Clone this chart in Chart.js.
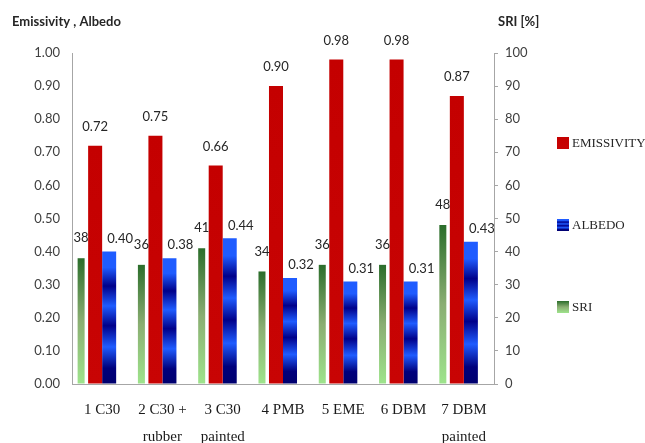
<!DOCTYPE html>
<html>
<head>
<meta charset="utf-8">
<script src="https://cdn.jsdelivr.net/npm/chart.js@4.4.1/dist/chart.umd.min.js"></script>
<style>
  html, body { margin: 0; padding: 0; background: #fff; }
  #wrap { width: 645px; height: 443px; }
</style>
</head>
<body>
<div id="wrap"><canvas id="c" width="645" height="443"></canvas></div>
<script>
// Pavement samples and measured surface properties
const categories = [['1 C30'], ['2 C30 +', 'rubber'], ['3 C30', 'painted'], ['4 PMB'], ['5 EME'], ['6 DBM'], ['7 DBM', 'painted']];
const emissivity = [0.72, 0.75, 0.66, 0.90, 0.98, 0.98, 0.87];
const albedo = [0.40, 0.38, 0.44, 0.32, 0.31, 0.31, 0.43];
const sri = [38, 36, 41, 34, 36, 36, 48];

// Axis tick labels
const leftTickLabels = ['0.00', '0.10', '0.20', '0.30', '0.40', '0.50', '0.60', '0.70', '0.80', '0.90', '1.00'];
const rightTickLabels = ['0', '10', '20', '30', '40', '50', '60', '70', '80', '90', '100'];

const leftTitle = 'Emissivity , Albedo';
const rightTitle = 'SRI [%]';

// Colour ramps used for bar fills (offset, colour), top of bar at 0
const greenStops = [[0, '#2b6d2b'], [0.5, '#8aae72'], [1, '#9ee48c']];
const redStops = [[0, '#c40000'], [1, '#c80404']];
const blueStops = [[0, '#1f5cff'], [0.12, '#1f5cff'], [0.26, '#00008a'], [0.41, '#1f5cff'], [0.56, '#00008a'], [0.72, '#1f5cff'], [0.88, '#00007c'], [1, '#00006e']];

const TICK_FONT = { family: 'Lato', size: 13 };
const TEXT_DARK = '#262626';
const AXIS_GREY = '#a6a6a6';

function makeGradient(g2d, y0, y1, stops) {
  const g = g2d.createLinearGradient(0, y0, 0, y1);
  stops.forEach(([o, c]) => g.addColorStop(o, c));
  return g;
}

// Gradient spanning each individual bar, from its top down to the zero line
function barFill(stops) {
  return (ctx) => {
    const { chart, dataset, dataIndex, type } = ctx;
    if (type !== 'data' || !chart.chartArea) return stops[0][1];
    const scale = chart.scales[dataset.yAxisID];
    const top = scale.getPixelForValue(dataset.data[dataIndex]);
    const bottom = scale.getPixelForValue(0);
    return makeGradient(chart.ctx, top, bottom === top ? top + 1 : bottom, stops);
  };
}

const datasets = [
  {
    label: 'SRI', data: sri, yAxisID: 'y2', barPercentage: 0.5,
    backgroundColor: barFill(greenStops), stops: greenStops,
    valueText: v => String(v), labelShift: { x: 0, y: 20 }
  },
  {
    label: 'EMISSIVITY', data: emissivity, yAxisID: 'y', barPercentage: 1,
    backgroundColor: barFill(redStops), stops: redStops,
    valueText: v => v.toFixed(2), labelShift: { x: 0, y: 19 }
  },
  {
    label: 'ALBEDO', data: albedo, yAxisID: 'y', barPercentage: 1,
    backgroundColor: barFill(blueStops), stops: blueStops,
    valueText: v => v.toFixed(2), labelShift: { x: 11, y: 13 }
  },
  // empty slot that leaves room for the albedo labels at the right of each group
  { label: '', data: [], yAxisID: 'y', barPercentage: 1 }
];

const legendOrder = ['EMISSIVITY', 'ALBEDO', 'SRI'];

const valueLabels = {
  id: 'valueLabels',
  afterDatasetsDraw(chart) {
    const g = chart.ctx;
    g.save();
    g.font = '13px Lato';
    g.fillStyle = TEXT_DARK;
    g.textAlign = 'center';
    g.textBaseline = 'middle';
    chart.data.datasets.forEach((ds, di) => {
      if (!ds.valueText) return;
      chart.getDatasetMeta(di).data.forEach((bar, i) => {
        g.fillText(ds.valueText(ds.data[i]), bar.x + ds.labelShift.x, bar.y - ds.labelShift.y);
      });
    });
    g.restore();
  }
};

const axisTitles = {
  id: 'axisTitles',
  afterDraw(chart) {
    const g = chart.ctx;
    g.save();
    g.font = 'bold 13px Lato';
    g.fillStyle = TEXT_DARK;
    g.textBaseline = 'middle';
    g.textAlign = 'left';
    g.fillText(leftTitle, 12, 22);
    g.fillText(rightTitle, chart.scales.y2.left + 4, 22);
    g.restore();
  }
};

const sideLegend = {
  id: 'sideLegend',
  afterDraw(chart) {
    const g = chart.ctx;
    const x = 557, box = 12, y0 = 143, step = 82;
    g.save();
    g.font = '13px "Liberation Serif"';
    g.fillStyle = TEXT_DARK;
    g.textBaseline = 'middle';
    g.textAlign = 'left';
    legendOrder.forEach((name, k) => {
      const ds = chart.data.datasets.find(d => d.label === name);
      const cy = y0 + k * step;
      g.fillStyle = makeGradient(g, cy - box / 2, cy + box / 2, ds.stops);
      g.fillRect(x, cy - box / 2, box, box);
      g.fillStyle = TEXT_DARK;
      g.fillText(name, x + box + 3, cy + 1);
    });
    g.restore();
  }
};

new Chart(document.getElementById('c'), {
  type: 'bar',
  data: { labels: categories, datasets },
  options: {
    responsive: false,
    animation: false,
    devicePixelRatio: 1,
    layout: { padding: { top: 53, right: 111, bottom: 0, left: 0 } },
    datasets: { bar: { categoryPercentage: 0.93 } },
    plugins: { legend: { display: false }, tooltip: { enabled: false } },
    scales: {
      x: {
        grid: { display: true, drawOnChartArea: false, drawTicks: false },
        border: { display: true, color: AXIS_GREY, width: 1 },
        ticks: {
          color: '#1a1a1a', padding: 12, maxRotation: 0, autoSkip: false,
          font: { family: 'Liberation Serif', size: 15, lineHeight: 1.83 }
        },
        afterFit(s) { s.height = 59; }
      },
      y: {
        position: 'left', min: 0, max: 1,
        grid: { display: true, drawOnChartArea: false, drawTicks: false },
        border: { display: true, color: AXIS_GREY, width: 1 },
        ticks: {
          stepSize: 0.1, padding: 12, color: '#404040', font: TICK_FONT,
          callback: (v, i) => leftTickLabels[i]
        },
        afterFit(s) { s.width = 72; }
      },
      y2: {
        position: 'right', min: 0, max: 100,
        grid: { display: true, drawOnChartArea: false, drawTicks: true, tickLength: 4, color: AXIS_GREY },
        border: { display: true, color: AXIS_GREY, width: 1 },
        ticks: {
          stepSize: 10, padding: 7, color: '#404040', font: TICK_FONT,
          callback: (v, i) => rightTickLabels[i]
        },
        afterFit(s) { s.width = 40; }
      }
    }
  },
  plugins: [valueLabels, axisTitles, sideLegend]
});
</script>
</body>
</html>
